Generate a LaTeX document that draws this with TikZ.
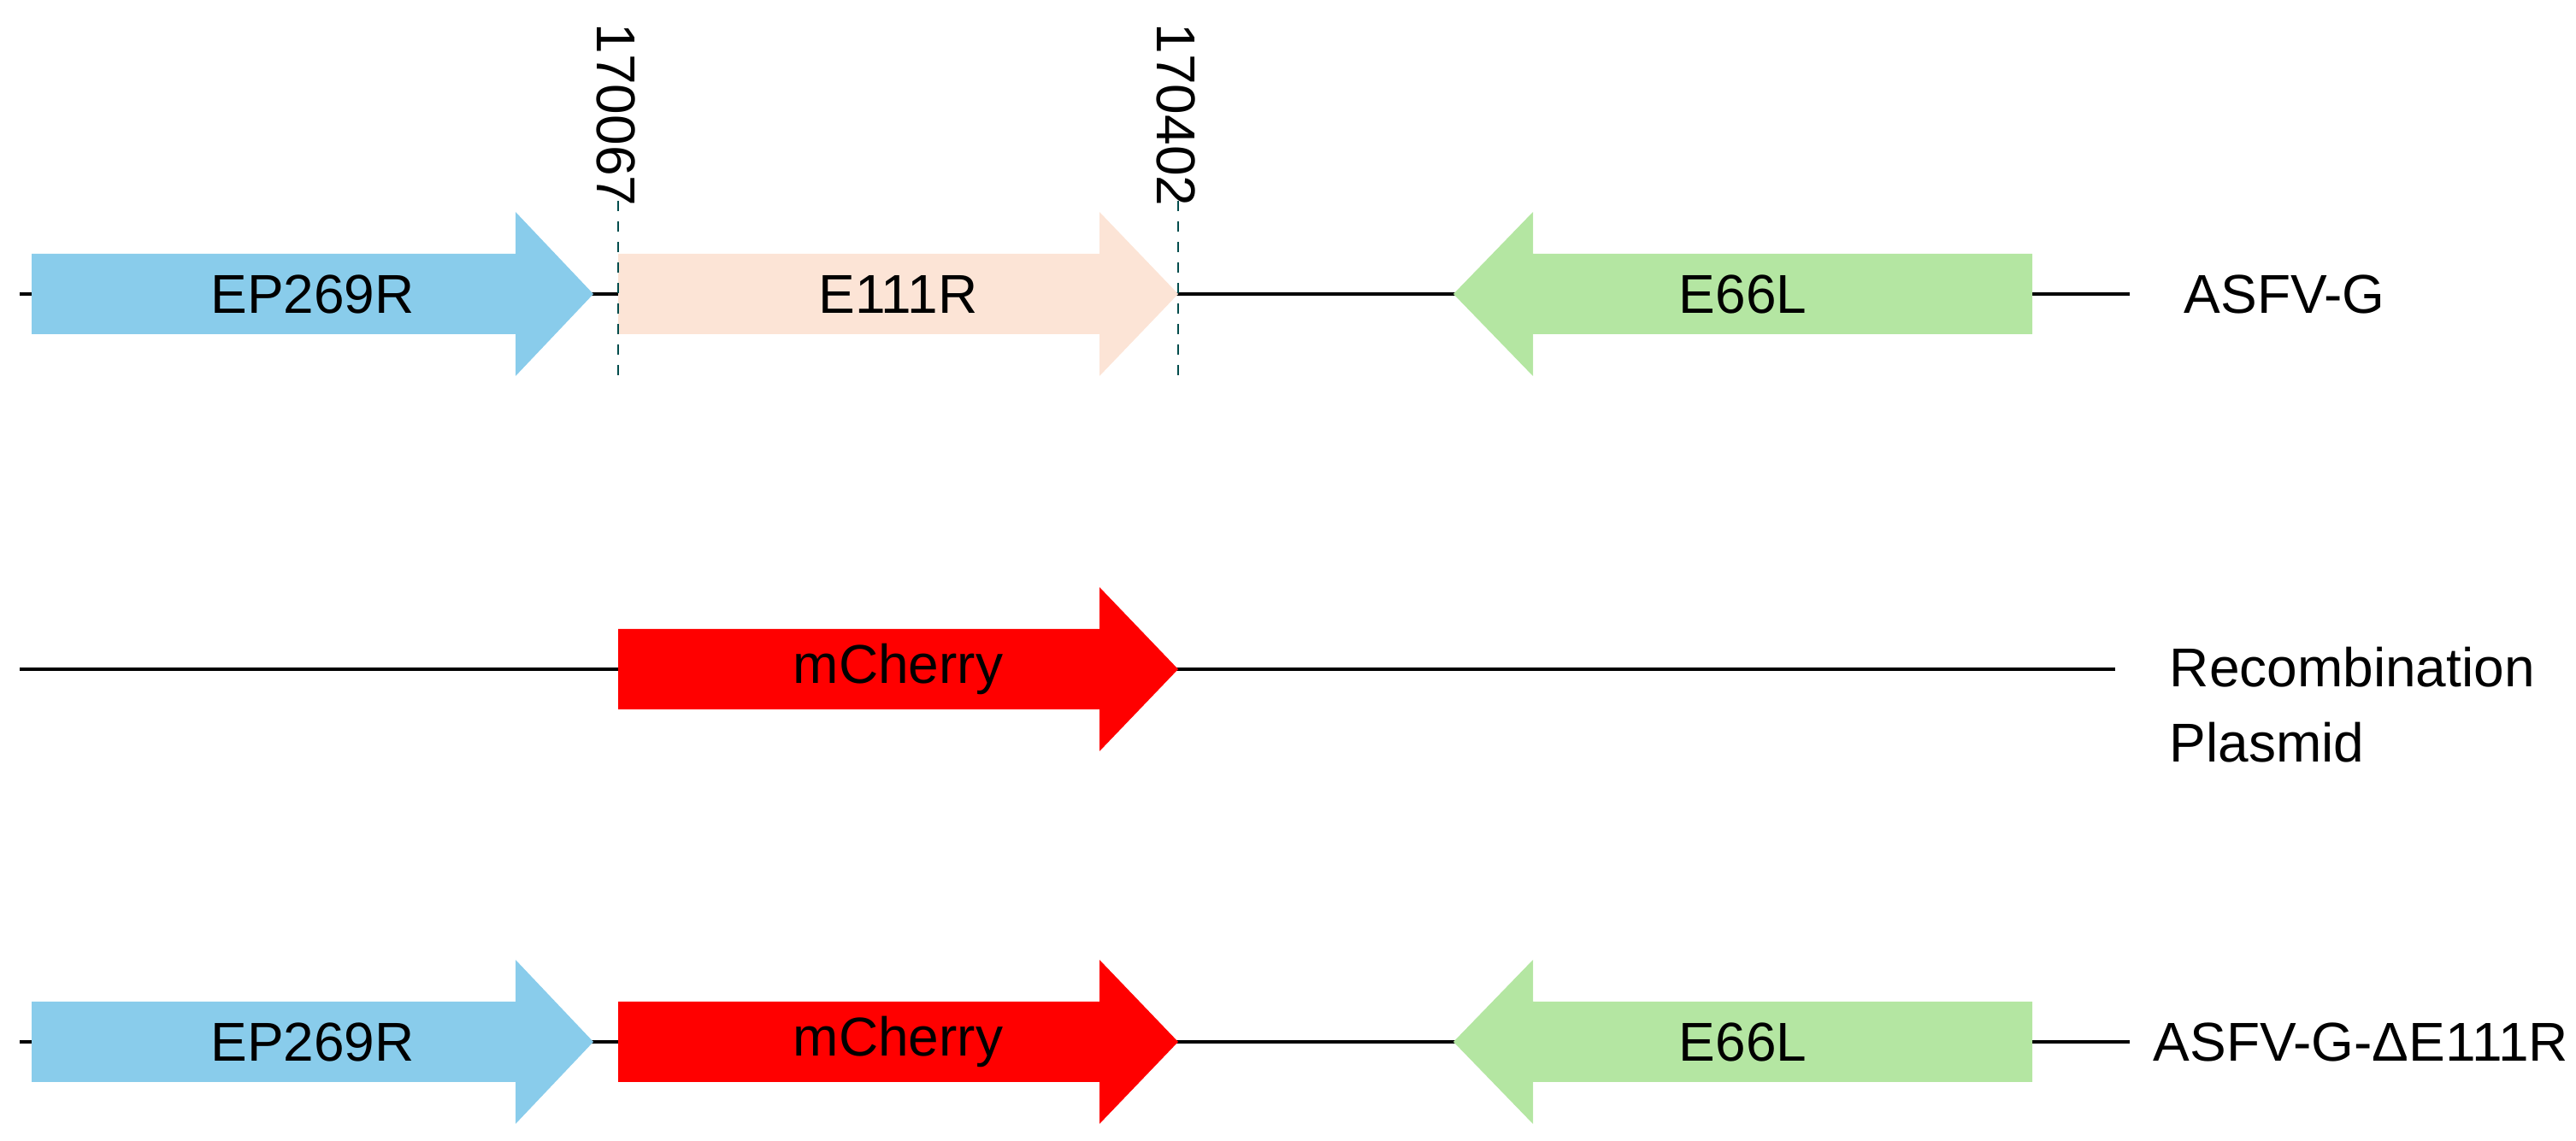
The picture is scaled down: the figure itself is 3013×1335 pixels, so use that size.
\documentclass[tikz,border=0pt]{standalone}
\usepackage{fontspec}
\setmainfont{Liberation Sans}
\usetikzlibrary{positioning}
\definecolor{epblue}{HTML}{89CCEB}
\definecolor{epeach}{HTML}{FCE4D6}
\definecolor{egreen}{HTML}{B4E6A2}
\definecolor{mred}{HTML}{FF0000}
% gene arrow: #1 tail x, #2 head base x, #3 tip x, #4 row y, #5 colour, #6 name, #7 label
\newcommand{\genearrow}[7]{
  \fill[#5] (#1,#4-47) -- (#2,#4-47) -- (#2,#4-96) -- (#3,#4) -- (#2,#4+96) -- (#2,#4+47) -- (#1,#4+47) -- cycle;
  \node[gene] (#6) at ({(#1+#3)/2},#4) {#7};
}
\begin{document}
\begin{tikzpicture}[x=0.25pt,y=-0.25pt]
  \tikzstyle{gene}=[font=\fontsize{16}{19}\selectfont, inner sep=0pt]
  \tikzstyle{track}=[line width=1pt, black]
  \tikzstyle{site}=[dashed, line width=0.7pt, color=teal!60!black]
  \tikzstyle{tag}=[font=\fontsize{16}{22}\selectfont, anchor=west, align=left, inner sep=0pt]
  \useasboundingbox (0,0) rectangle (3013,1335);
  % ASFV-G
  \coordinate (a0) at (23,344);
  \coordinate (a1) at (2491,344);
  \draw[track] (a0) -- (a1);
  \genearrow{37}{603}{694}{344}{epblue}{ep1}{EP269R}
  \genearrow{723}{1286}{1378}{344}{epeach}{e111}{E111R}
  \genearrow{2377}{1793}{1700}{344}{egreen}{e66a}{E66L}
  \node[tag] (asfv) at (2554,344) {ASFV-G};
  % deletion borders
  \coordinate (s1t) at (723,235);
  \coordinate (s1b) at (723,442);
  \coordinate (s2t) at (1378,235);
  \coordinate (s2b) at (1378,442);
  \draw[site] (s1t) -- (s1b);
  \draw[site] (s2t) -- (s2b);
  \node[gene, rotate=-90, anchor=west] (p1) at (721,27) {170067};
  \node[gene, rotate=-90, anchor=west] (p2) at (1376,27) {170402};
  % plasmid
  \coordinate (b0) at (23,783);
  \coordinate (b1) at (2474,783);
  \draw[track] (b0) -- (b1);
  \genearrow{723}{1286}{1378}{783}{mred}{mch}{mCherry}
  \node[tag] (plas) at (2537,825) {Recombination\\Plasmid};
  % deletion mutant
  \coordinate (c0) at (23,1219);
  \coordinate (c1) at (2491,1219);
  \draw[track] (c0) -- (c1);
  \genearrow{37}{603}{694}{1219}{epblue}{ep2}{EP269R}
  \genearrow{723}{1286}{1378}{1219}{mred}{mch2}{mCherry}
  \genearrow{2377}{1793}{1700}{1219}{egreen}{e66b}{E66L}
  \node[tag] (dasfv) at (2518,1219) {ASFV-G-ΔE111R};
\end{tikzpicture}
\end{document}
